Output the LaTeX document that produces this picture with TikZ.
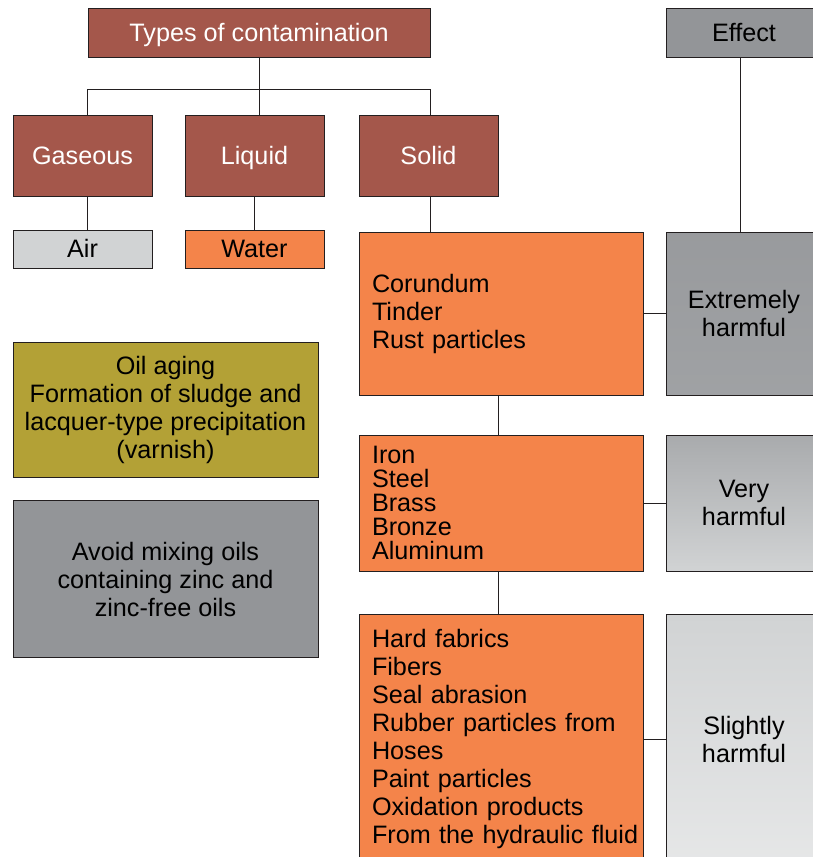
\documentclass[tikz,border=0pt]{standalone}
\usepackage{fontspec}
\setmainfont{Liberation Sans}
\usetikzlibrary{calc}
\definecolor{brownbox}{HTML}{A4574B}
\definecolor{orangebox}{HTML}{F4844A}
\definecolor{graybox}{HTML}{939598}
\definecolor{olivebox}{HTML}{B3A136}
\definecolor{lightbox}{HTML}{D1D3D4}
\definecolor{edge}{HTML}{231F20}
\begin{document}
\begin{tikzpicture}[x=1pt,y=-1pt,
  box/.style={draw=edge,line width=0.9pt,inner sep=0pt,font=\fontsize{25.2}{28}\selectfont,align=center},
  oneline/.style={text height=18pt,text depth=1pt},
  head/.style={box,oneline,fill=brownbox,text=white},
  listbox/.style={box,fill=orangebox,align=left,text width=284pt,inner xsep=0pt,
    execute at begin node={\leftskip=13pt}},
  conn/.style={draw=edge,line width=0.9pt}]
\useasboundingbox (0,0) rectangle (813,857);
\clip (0,0) rectangle (813,857);
% top row
\node[head,minimum width=342pt,minimum height=49pt] (t) at (259,32.5) {Types of contamination};
\node[box,oneline,fill=graybox,minimum width=156pt,minimum height=49pt] (eff) at (744,32.5) {Effect};
\node[head,minimum width=139pt,minimum height=81pt] (gas) at (82.5,155.5) {Gaseous};
\node[head,minimum width=139pt,minimum height=81pt] (liq) at (254.5,155.5) {Liquid};
\node[head,minimum width=139pt,minimum height=81pt] (sol) at (428.5,155.5) {Solid};
\node[box,oneline,fill=lightbox,minimum width=139pt,minimum height=38pt] (air) at (82.5,249) {Air};
\node[box,oneline,fill=orangebox,minimum width=139pt,minimum height=38pt] (wat) at (254.5,249) {Water};
% left boxes
\node[box,fill=olivebox,minimum width=305pt,minimum height=135pt] (oil) at (165.5,410) {Oil aging\\Formation of sludge and\\lacquer-type precipitation\\(varnish)};
\node[box,fill=graybox,minimum width=305pt,minimum height=157pt] (avoid) at (165.5,579) {Avoid mixing oils\\containing zinc and\\zinc-free oils};
% solid lists
\node[listbox,minimum height=163pt] (c1) at (501,313.5) {Corundum\\Tinder\\Rust particles};
\node[listbox,minimum height=136pt,font=\fontsize{25.2}{24}\selectfont] (c2) at (501,503) {Iron\\Steel\\Brass\\Bronze\\Aluminum};
\node[listbox,minimum height=250pt] (c3) at (501,739) {Hard fabrics\\Fibers\\Seal abrasion\\Rubber particles from\\Hoses\\Paint particles\\Oxidation products\\From the hydraulic fluid};
% effect boxes
\node[box,top color=graybox!95!white,bottom color=graybox!80!lightbox,minimum width=156pt,minimum height=163pt] (e1) at (744,313.5) {Extremely\\harmful};
\node[box,top color=graybox!65!lightbox,bottom color=lightbox,minimum width=156pt,minimum height=136pt] (e2) at (744,503) {Very\\harmful};
\node[box,top color=lightbox,bottom color=lightbox!55!white,minimum width=156pt,minimum height=250pt] (e3) at (744,739) {Slightly\\harmful};
% connectors
\coordinate (bar) at (0,89);
\draw[conn] (t.south) -- (t.south |- bar);
\draw[conn] (t.west |- bar) -- (t.east |- bar);
\draw[conn] (t.west |- bar) -- (t.west |- gas.north);
\draw[conn] (t.south |- bar) -- (t.south |- liq.north);
\draw[conn] (t.east |- bar) -- (t.east |- sol.north);
\draw[conn] (gas.south -| t.west) -- (air.north -| t.west);
\draw[conn] (liq.south) -- (wat.north);
\draw[conn] (sol.south -| t.east) -- (c1.north -| t.east);
\draw[conn] (c1.south -| sol.east) -- (c2.north -| sol.east);
\draw[conn] (c2.south -| sol.east) -- (c3.north -| sol.east);
\draw[conn] ($(eff.south)+(-4,0)$) -- ($(e1.north)+(-4,0)$);
\draw[conn] (c1.east) -- (e1.west);
\draw[conn] (c2.east) -- (e2.west);
\draw[conn] (c3.east) -- (e3.west);
\end{tikzpicture}
\end{document}
